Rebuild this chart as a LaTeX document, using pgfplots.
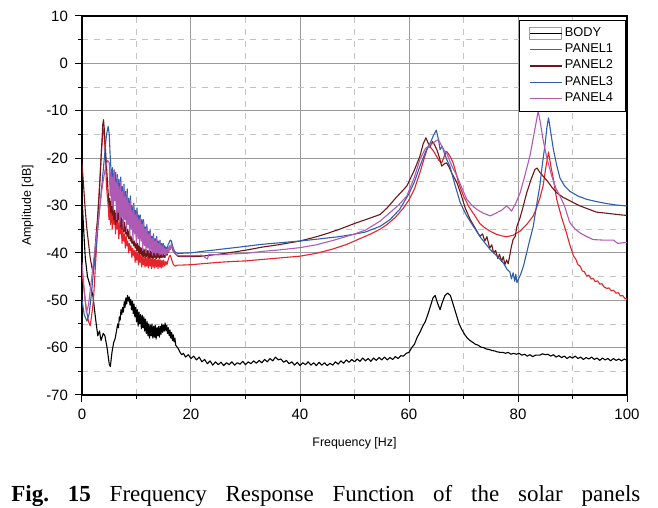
\documentclass[border=0pt]{standalone}
\usepackage{fontspec}
\setmainfont{Liberation Sans}
\newfontfamily\capfont{Liberation Serif}
\usepackage{pgfplots}
\pgfplotsset{compat=1.18}
\definecolor{pone}{RGB}{228,35,42}
\definecolor{ptwo}{RGB}{110,22,24}
\definecolor{pthree}{RGB}{45,95,170}
\definecolor{pfour}{RGB}{175,90,180}
\definecolor{gmaj}{RGB}{155,155,155}
\definecolor{gmin}{RGB}{195,195,195}
\begin{document}
\begin{tikzpicture}
\begin{axis}[
  scale only axis,
  width=272.5pt, height=189.5pt,
  xmin=0, xmax=100, ymin=-70, ymax=10,
  xtick={0,20,...,100}, minor xtick={10,30,...,90},
  ytick={-70,-60,...,10}, minor ytick={-65,-55,...,5},
  tick pos=left, tick align=outside,
  major tick length=3.5pt, minor tick length=2pt,
  grid=both,
  major grid style={solid, gmaj, line width=0.5pt},
  minor grid style={dashed, gmin, line width=0.4pt},
  axis line style={black, line width=0.7pt},
  every tick/.style={black, line width=0.5pt},
  /pgf/number format/assume math mode=true,
  ticklabel style={font=\fontsize{7.5}{9}\selectfont},
  xlabel={Frequency [Hz]},
  ylabel={Amplitude [dB]},
  label style={font=\fontsize{6.2}{7}\selectfont},
  xlabel style={yshift=-2pt},
  ylabel style={yshift=-0.5pt},
  legend style={at={(rel axis cs:1,1)}, anchor=north east, xshift=-0.5pt, yshift=-2pt,
    draw=black, line width=0.5pt, fill=white,
    font=\fontsize{6.4}{7}\selectfont, row sep=-0.2pt, inner xsep=5pt, inner ysep=2.3pt,
    nodes={inner sep=1.2pt}},
  legend cell align=left,
  legend image code/.code={\draw[#1, line width=0.7pt] (0pt,0pt) -- (16pt,0pt);},
  every axis plot/.append style={line width=0.55pt, line join=round},
]
\addplot[black, legend image code/.code={\draw[pone!60, line width=0.5pt, fill=white] (0pt,-3pt) rectangle (16pt,3pt); \draw[black, line width=0.6pt] (0pt,0pt) -- (16pt,0pt);}] coordinates {
(0,-28)(0.3,-35)(0.6,-41)(1.0,-45)(1.5,-47)(2.0,-49)(2.5,-54)(2.9,-57.5)(3.2,-56.5)(3.5,-58.5)(3.9,-57)(4.2,-57.5)(4.6,-60)(5.0,-63.5)(5.2,-64)(5.5,-61)(5.8,-59)(6.1,-58)
(6.4,-56)(6.55,-55)(6.7,-55.8)(6.85,-53.5)(7.0,-54.2)(7.15,-52)(7.3,-53)(7.45,-51.5)(7.6,-52.5)(7.75,-50.3)(7.9,-51.5)(8.05,-49.5)(8.2,-50.8)(8.35,-49)(8.5,-50.2)(8.65,-49.3)(8.8,-51)(8.95,-49.8)(9.1,-52)(9.25,-50.2)(9.4,-52.8)(9.55,-50.8)(9.7,-53.5)(9.85,-51.5)(10.0,-54.5)(10.15,-52)(10.3,-55.5)(10.45,-52.5)(10.6,-55)(10.75,-53)(10.9,-56)(11.05,-53.2)(11.2,-55.8)(11.35,-53.5)(11.5,-56.5)(11.65,-54)(11.8,-57)(11.95,-54.5)(12.1,-57.5)(12.25,-55)(12.4,-58)(12.55,-55.2)(12.7,-57.5)(12.85,-55)(13.0,-58)(13.15,-55.5)(13.3,-57.8)(13.45,-55.3)(13.6,-58.2)(13.75,-55.8)(13.9,-57.5)(14.05,-55.5)(14.2,-57.8)(14.35,-55.5)(14.5,-57.2)(14.65,-55)(14.8,-56.8)(14.95,-55.2)(15.1,-56.5)(15.25,-54.8)(15.4,-56.5)(15.55,-55.3)(15.7,-57)(15.85,-55.8)(16.0,-57.5)(16.15,-56.3)(16.3,-58)(16.45,-56.8)(16.6,-58.5)(16.75,-57.3)(16.9,-58.8)(17.05,-58)(17.2,-59.5)(17.4,-59.8)(17.7,-60.3)(18.0,-61)(18.3,-61.5)(18.6,-61.2)(19.0,-62)
(19.5,-61.5)(20,-62.3)(20.5,-61.8)(21,-62.6)(21.5,-62)(22,-63)(22.5,-62.5)(23,-63.4)(23.5,-62.8)(24,-63.7)(24.5,-63)(25,-63.6)(25.5,-63.1)(26,-63.8)(26.5,-63.2)(27,-63.6)(27.5,-63)(28,-63.7)(28.5,-63.2)(29,-63.5)(29.5,-62.9)(30,-63.6)(30.5,-63)(31,-63.4)(31.5,-62.8)(32,-63.3)(32.5,-62.7)(33,-63.2)(33.5,-62.5)(34,-63)(34.5,-62.3)(35,-62.8)(35.5,-62)(36,-62.6)(36.5,-62.4)(37,-63.1)(37.5,-62.7)(38,-63.4)(38.5,-63)(39,-63.7)(39.5,-63.1)(40,-63.8)(40.5,-63.2)(41,-63.6)(41.5,-63)(42,-63.7)(42.5,-63.2)(43,-63.8)(43.5,-63.1)(44,-63.7)(44.5,-63.2)(45,-63.8)(45.5,-63.3)(46,-63.7)(46.5,-63)(47,-63.5)(47.5,-62.8)(48,-63.3)(48.5,-62.6)(49,-63.1)(49.5,-62.5)(50,-63)(50.5,-62.4)(51,-62.9)(51.5,-62.2)(52,-62.8)(52.5,-62.3)(53,-62.9)(53.5,-62.2)(54,-62.7)(54.5,-62.1)(55,-62.6)(55.5,-62)(56,-62.6)(56.5,-62.1)(57,-62.5)(57.5,-61.9)(58,-62.3)(58.5,-61.7)(59,-61.8)(59.5,-61.2)(60,-61)(60.5,-60)(61,-59.3)(61.5,-57.8)(62,-56.8)(62.5,-55.5)(63,-54.5)(63.3,-53.5)(63.6,-52.5)(64,-51)(64.4,-49.5)(64.8,-49)(65.2,-50.5)(65.7,-52)(66.1,-50.5)(66.6,-49)(67.1,-48.5)(67.6,-49)(68,-50.5)(68.4,-52)(68.8,-53.5)(69.2,-55)(69.7,-56.2)(70.2,-57.2)(70.7,-58)(71.2,-58.5)(71.7,-58.9)(72.2,-59.3)(72.7,-59.5)(73.2,-59.9)(73.7,-60)(74.2,-60.3)(74.7,-60.4)(75.2,-60.6)(75.7,-60.7)(76.2,-60.9)(76.7,-61)(77.2,-61)(77.7,-61.2)(78.2,-61)(78.7,-61.4)(79.2,-61.2)(79.7,-61.4)(80.2,-61.2)(80.7,-61.6)(81.2,-61.4)(81.7,-61.8)(82.2,-61.5)(82.7,-61.9)(83.2,-61.6)(84,-61.6)(84.5,-61.3)(85,-61.5)(85.5,-61.4)(86,-61.8)(86.5,-61.5)(87,-62)(87.5,-61.7)(88,-62.1)(88.5,-61.8)(89,-62.3)(89.5,-61.9)(90,-62.2)(90.5,-61.8)(91,-62.3)(91.5,-62)(92,-62.5)(92.5,-62.1)(93,-62.4)(93.5,-62)(94,-62.5)(94.5,-62.2)(95,-62.7)(95.5,-62.2)(96,-62.6)(96.5,-62.3)(97,-62.8)(97.5,-62.3)(98,-62.7)(98.5,-62.4)(99,-62.8)(99.5,-62.4)(100,-62.7)
};
\addlegendentry{BODY}
\addplot[pone] coordinates {
(0,-44)(0.4,-48)(0.8,-52)(1.2,-54.5)(1.5,-55.4)(1.8,-53)(2.1,-50)(2.4,-44)(2.7,-38)(3.0,-30)(3.3,-24)(3.6,-18)(3.9,-14)(4.1,-15)(4.3,-20)(4.5,-26)
(4.8,-30)(4.95,-33)(5.10,-30)(5.25,-34)(5.40,-29.5)(5.55,-35)(5.70,-31)(5.85,-34)(6.00,-31.5)(6.15,-36)(6.30,-32)(6.45,-35)(6.60,-33)(6.75,-37)(6.90,-33.5)(7.05,-36)(7.20,-34.5)(7.35,-38)(7.50,-35)(7.65,-37.5)(7.80,-36)(7.95,-39)(8.10,-36.5)(8.25,-38.5)(8.40,-37.5)(8.55,-40)(8.70,-38)(8.85,-39.5)(9.00,-38.5)(9.15,-41)(9.30,-39)(9.45,-40.5)(9.60,-39.5)(9.75,-42)(9.90,-39.5)(10.05,-41.5)(10.20,-40)(10.35,-42.5)(10.50,-40)(10.65,-42)(10.80,-40.5)(10.95,-43)(11.10,-40.5)(11.25,-42.5)(11.40,-41)(11.55,-43)(11.70,-40.8)(11.85,-42.8)(12.00,-41)(12.15,-43.2)(12.30,-41)(12.45,-42.8)(12.60,-41.2)(12.75,-43.3)(12.90,-41)(13.05,-43)(13.20,-41.3)(13.35,-43.2)(13.50,-41.2)(13.65,-43)(13.80,-41.5)(13.95,-43.3)(14.10,-41.3)(14.25,-43)(14.40,-41.5)(14.55,-43.2)(14.70,-41.6)(14.85,-43)(15.00,-41.5)(15.20,-42.8)(15.40,-41.8)(15.60,-42.5)(15.80,-41.5)(16.00,-40.8)(16.20,-40.5)(16.40,-41.2)(16.60,-42)(16.80,-42.5)(17.1,-42.8)(17.5,-42.6)
(18,-42.6)(20,-42.5)(22,-42.3)(25,-42)(28,-41.8)(30,-41.7)(33,-41.4)(36,-41.1)(40,-40.7)(43,-40.1)(46,-39.2)(48.6,-38.2)(51,-37)(53,-36)(54.7,-35)(56,-34)(57.5,-32.5)(59,-30.5)(60,-28.8)(61,-26.5)(62,-23.1)(62.8,-20)(63.5,-17.5)(64,-17.8)(64.5,-18.5)(65,-19.5)(65.5,-20.5)(66,-21)(66.5,-19.5)(66.9,-18.6)(67.3,-19.2)(67.7,-20)(68.1,-21)(68.6,-23)(69,-24.8)(69.5,-26.5)(70,-28)(71,-30.3)(72,-32)(73,-33.8)(74,-34.8)(75,-35.5)(76.1,-36.1)(77,-36.4)(77.9,-36.6)(79.1,-36.3)(80.4,-35.4)(81.6,-34)(82.8,-32.2)(83.4,-30.5)(84,-28.5)(84.6,-25.9)(85.1,-22)(85.6,-18.7)(86,-21.5)(86.5,-24.5)(87.1,-28.7)(88,-32.5)(88.9,-35.8)(89.5,-38.3)(90.2,-40.7)(90.6,-41.3)(91,-42.5)(91.4,-42.8)(91.8,-43.8)(92.2,-44)(92.6,-44.9)(93,-44.7)(93.4,-45.5)(93.8,-45.4)(94.2,-46.1)(94.6,-45.9)(95,-46.6)(95.4,-46.5)(95.8,-47.2)(96.3,-47.5)(96.7,-47.4)(97.1,-48)(97.5,-47.9)(98,-48.5)(98.4,-48.4)(98.8,-49.1)(99.2,-49)(99.6,-49.6)(100,-49.8)
};
\addlegendentry{PANEL1}
\addplot[ptwo] coordinates {
(0,-21)(0.3,-26)(0.6,-31)(0.9,-35)(1.2,-38)(1.5,-41)(1.8,-43)(2.0,-44)(2.3,-41)(2.6,-36)(2.9,-32)(3.2,-27)(3.5,-20)(3.8,-13)(3.95,-11.9)(4.1,-14)(4.3,-18)(4.5,-21.7)
(4.8,-27.3)(4.95,-30)(5.10,-28.5)(5.25,-31.5)(5.40,-29)(5.55,-32)(5.70,-30)(5.85,-33)(6.00,-31)(6.15,-34)(6.30,-31.5)(6.45,-33.5)(6.60,-31)(6.75,-33)(6.90,-31.5)(7.05,-34.5)(7.20,-32)(7.35,-35)(7.50,-33)(7.65,-35.5)(7.80,-33.5)(7.95,-36)(8.10,-34.5)(8.25,-36.5)(8.40,-35)(8.55,-37)(8.70,-35.5)(8.85,-37.5)(9.00,-36.5)(9.15,-38)(9.30,-37)(9.45,-38.5)(9.60,-37.5)(9.75,-39)(9.90,-38)(10.05,-39.5)(10.20,-38)(10.35,-40)(10.50,-38.5)(10.65,-40.3)(10.80,-38.8)(10.95,-40.5)(11.10,-39)(11.25,-40.8)(11.40,-39.2)(11.55,-41)(11.70,-39.3)(11.85,-40.8)(12.00,-39.5)(12.15,-41)(12.30,-39.5)(12.45,-41.2)(12.60,-39.6)(12.75,-41)(12.90,-39.8)(13.05,-41.2)(13.20,-39.8)(13.35,-41)(13.50,-39.8)(13.65,-41.2)(13.80,-40)(13.95,-41)(14.10,-40)(14.25,-41.2)(14.40,-40)(14.55,-41)(14.70,-40.2)(14.85,-41)(15.00,-40.3)(15.20,-41)(15.40,-40.2)(15.60,-40.5)(15.80,-39.8)(16.00,-39.3)(16.20,-38.8)(16.40,-38.6)(16.60,-39.2)(16.80,-39.8)(17.2,-40.3)(17.6,-40.7)
(18.3,-40.8)(20,-40.8)(22,-40.7)(25,-40.3)(28,-39.8)(30.2,-39.4)(33,-38.8)(36,-38.3)(40,-37.5)(43,-36.6)(45,-35.9)(47.3,-35)(50,-33.8)(52,-33)(54.7,-31.9)(56,-30.5)(57.5,-28.5)(59.6,-25.9)(61,-22.5)(62,-19.6)(62.6,-17)(63.1,-15.7)(63.5,-16.8)(63.9,-17.5)(64.3,-16.5)(64.7,-17.2)(65.2,-18.5)(65.6,-20)(66,-21.7)(66.5,-21.2)(66.9,-21)(67.4,-22)(67.9,-23.3)(68.8,-25.2)(69.5,-27.5)(70.3,-30.5)(71.2,-32.9)(72,-34.5)(73,-36.5)(73.5,-36)(73.9,-37.5)(74.3,-36.6)(74.8,-39)(75.2,-38.3)(75.5,-40)(75.9,-39.5)(76.3,-41.2)(76.6,-40.3)(77,-41.8)(77.3,-40.8)(77.6,-42.5)(77.9,-41.5)(78.2,-42.3)(78.5,-40.5)(78.8,-38.6)(79.1,-37.2)(79.5,-36.5)(79.8,-34.4)(80.4,-32.5)(81,-30)(81.6,-27.3)(82.4,-24.5)(83.1,-22.4)(83.5,-22.1)(84,-23)(84.6,-23.8)(85.5,-25)(86.3,-26.3)(87.1,-27.3)(88.3,-28.3)(89,-28.7)(90,-29.3)(91.4,-30.1)(93,-30.8)(94.4,-31.4)(96,-31.6)(97.5,-31.8)(99,-32)(100,-32.1)
};
\addlegendentry{PANEL2}
\addplot[pthree] coordinates {
(0,-50)(0.4,-53)(0.9,-54.4)(1.3,-53)(1.7,-49)(2.1,-44)(2.5,-40)(2.9,-35)(3.3,-30)(3.7,-25)(4.1,-20)(4.5,-15)(4.8,-13.3)
(5.00,-15)(5.15,-19)(5.30,-22)(5.45,-26)(5.60,-22)(5.75,-28)(5.90,-22.5)(6.05,-27)(6.20,-23)(6.35,-30)(6.50,-23.5)(6.65,-29)(6.80,-24.5)(6.95,-31)(7.10,-24)(7.25,-30)(7.40,-26)(7.55,-32)(7.70,-25.5)(7.85,-31)(8.00,-27)(8.15,-33)(8.30,-26.5)(8.45,-32)(8.60,-28.5)(8.75,-34)(8.90,-28)(9.05,-33)(9.20,-30)(9.35,-35)(9.50,-29.5)(9.65,-34)(9.80,-31)(9.95,-36)(10.10,-30.5)(10.25,-35)(10.40,-32)(10.55,-37)(10.70,-32)(10.85,-36)(11.00,-33)(11.15,-38)(11.30,-33)(11.45,-37)(11.60,-34.5)(11.75,-38.5)(11.90,-34)(12.05,-38)(12.20,-35.5)(12.35,-39)(12.50,-35)(12.65,-38.5)(12.80,-36.5)(12.95,-39.5)(13.10,-36)(13.25,-39)(13.40,-37)(13.55,-39.5)(13.70,-36.5)(13.85,-39.2)(14.00,-37.5)(14.15,-39.5)(14.30,-37.3)(14.45,-39.3)(14.60,-38)(14.75,-39.5)(14.90,-38)(15.05,-39.4)(15.20,-38.5)(15.35,-39.5)(15.50,-38.8)(15.65,-39.2)(15.80,-38.2)(15.95,-38)(16.10,-37.5)(16.25,-37.3)(16.40,-37.5)(16.55,-38.2)(16.70,-38.8)(16.85,-39.3)(17.0,-39.7)(17.3,-40)(17.6,-40.1)
(18,-40.1)(20,-40)(22,-39.7)(25,-39.3)(28,-38.9)(30.2,-38.6)(33,-38.2)(36,-37.9)(40,-37.5)(44,-37)(47,-36.6)(49.8,-36.1)(52,-35.6)(54.7,-34.4)(56.5,-33)(58.3,-30.8)(60,-27.5)(61,-25)(62,-21.7)(63,-18.8)(63.9,-16.8)(64.5,-15.2)(65,-14.1)(65.4,-16)(65.7,-18.2)(66.1,-17.5)(66.5,-19)(67,-20.5)(67.5,-21.7)(68.4,-25.5)(69.4,-29.4)(70.5,-32)(71.8,-34.4)(73.3,-37)(74.9,-39.3)(76,-40.5)(77.3,-42.1)(78,-43.5)(78.5,-44)(78.8,-45.5)(79.1,-44.2)(79.4,-46)(79.6,-44.5)(79.8,-46.3)(80.1,-45.5)(80.5,-44.5)(81,-42.8)(81.9,-38.5)(82.8,-34.4)(83.4,-30)(84,-25.9)(84.5,-21)(85,-16.8)(85.3,-13.5)(85.6,-11.5)(86,-14.5)(86.5,-18.2)(87.1,-21.5)(87.7,-24.2)(88.5,-25.8)(89.5,-27)(91,-28)(92.6,-28.7)(94.5,-29.2)(96.3,-29.6)(98,-29.9)(100,-30.1)
};
\addlegendentry{PANEL3}
\addplot[pfour] coordinates {
(0,-42)(0.4,-48)(0.8,-52.6)(1.2,-51)(1.6,-47)(2.0,-43)(2.4,-39)(2.8,-35)(3.2,-31)(3.6,-27)(4.0,-24)(4.4,-21.5)(4.7,-20.5)
(5.00,-21)(5.15,-28)(5.30,-23)(5.45,-30)(5.60,-24)(5.75,-31)(5.90,-22.5)(6.05,-29)(6.20,-25)(6.35,-33)(6.50,-24)(6.65,-31)(6.80,-26)(6.95,-34)(7.10,-25)(7.25,-32.5)(7.40,-27)(7.55,-35)(7.70,-26.5)(7.85,-33)(8.00,-28)(8.15,-35.5)(8.30,-27.5)(8.45,-34)(8.60,-29.5)(8.75,-36.5)(8.90,-29)(9.05,-35)(9.20,-31)(9.35,-37.5)(9.50,-30)(9.65,-36)(9.80,-32)(9.95,-38)(10.10,-31.5)(10.25,-37)(10.40,-33)(10.55,-38.5)(10.70,-32.5)(10.85,-37.5)(11.00,-34)(11.15,-39.5)(11.30,-33.5)(11.45,-38.5)(11.60,-35)(11.75,-40)(11.90,-34.5)(12.05,-39)(12.20,-36)(12.35,-40)(12.50,-35.5)(12.65,-39.5)(12.80,-37)(12.95,-40.5)(13.10,-36.5)(13.25,-40)(13.40,-37.5)(13.55,-40.5)(13.70,-37)(13.85,-40)(14.00,-38)(14.15,-40.5)(14.30,-37.5)(14.45,-40.3)(14.60,-38.5)(14.75,-40.5)(14.90,-38.5)(15.05,-40.2)(15.20,-39)(15.35,-40.5)(15.50,-39.3)(15.65,-40.2)(15.80,-38.8)(15.95,-39.8)(16.10,-38.5)(16.25,-39.3)(16.40,-38)(16.55,-38.8)(16.70,-39.2)(16.85,-39.8)(17.0,-40.1)(17.3,-40.4)(17.6,-40.5)
(18,-40.6)(20,-40.6)(22,-40.5)(23,-41.3)(23.3,-40.3)(25,-40.4)(28,-40.2)(30.2,-40.1)(33,-39.7)(36,-39.4)(40,-38.9)(43,-38.3)(46,-37.4)(49.8,-36.1)(52,-35.2)(54.7,-33.3)(56.5,-31.5)(58,-30)(59.6,-28)(61,-24)(62,-20.3)(63,-18)(63.9,-17.2)(64.5,-16.8)(65,-16.3)(65.4,-16.1)(65.8,-17)(66.3,-18.2)(66.9,-18.9)(67.8,-21.5)(68.8,-23.8)(69.7,-26.3)(70.6,-28.7)(71.5,-29.9)(72.4,-30.8)(73.6,-31.6)(74.9,-32.2)(76,-31.6)(77,-31)(77.9,-30.1)(78.4,-30.6)(78.8,-31.2)(79.6,-29.5)(80.4,-27.3)(81.3,-23.5)(82.2,-19.5)(83,-14.5)(83.7,-10.1)(84.1,-12.5)(84.6,-16.1)(85.3,-20)(86.2,-23.8)(87,-26.5)(87.7,-28)(88.5,-30)(89.5,-33.6)(90.5,-35)(91.4,-35.8)(92.5,-36.5)(93.8,-37.2)(95.5,-37.3)(97.5,-37.3)(98.3,-38)(99,-37.9)(100,-37.8)
};
\addlegendentry{PANEL4}
\end{axis}
\node[anchor=base west, inner sep=0] at ([xshift=-35.5pt, yshift=-53.5pt]current axis.south west)
  {\capfont\fontsize{11.5}{13}\selectfont\makebox[314.5pt][s]{\textbf{Fig.\ 15} Frequency Response Function of the solar panels}};
\path ([xshift=-41pt, yshift=-55.5pt]current axis.south west) rectangle ([xshift=15.5pt, yshift=8pt]current axis.north east);
\end{tikzpicture}
\end{document}
